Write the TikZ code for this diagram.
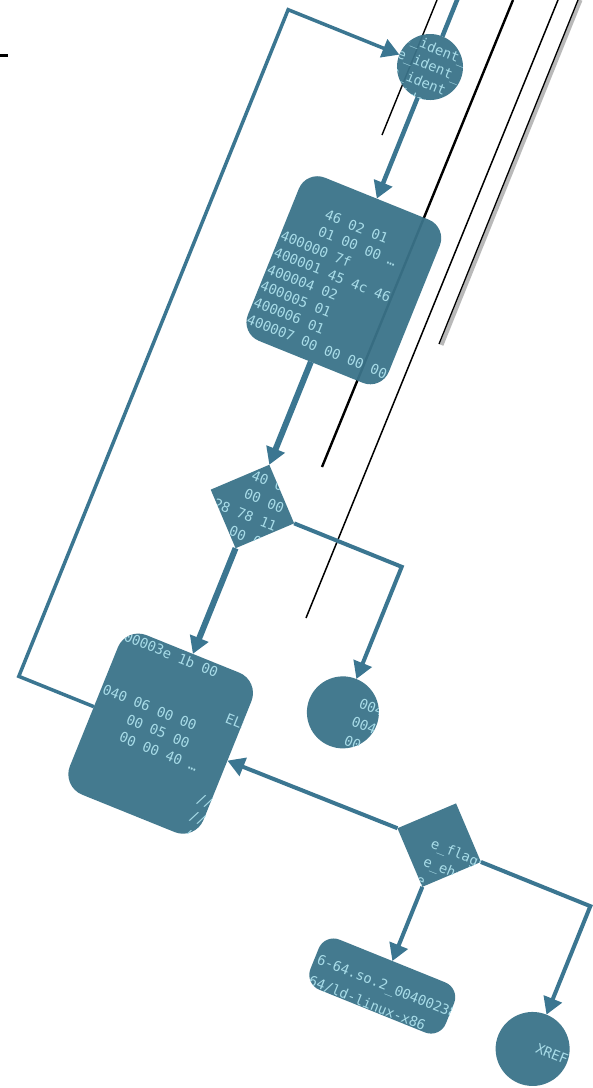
\documentclass[tikz,border=0pt]{standalone}
\usepackage{fontspec}
\setmonofont{DejaVu Sans Mono}
\usetikzlibrary{arrows.meta,shapes.geometric}
\definecolor{nodefill}{HTML}{3B7389}
\definecolor{edgecol}{HTML}{3B7691}
\definecolor{txtcol}{HTML}{A8DCE8}
\newcommand{\ind}[1]{\hphantom{#1}}
\begin{document}
\begin{tikzpicture}[x=1pt,y=-1pt,
  nd/.style={fill=nodefill, fill opacity=0.95, draw=none, inner sep=0pt, outer sep=0pt},
  circnode/.style={nd, circle},
  boxnode/.style={nd, rectangle, rounded corners=20pt},
  dianode/.style={nd, diamond, minimum width=90pt, minimum height=90pt},
  hex/.style={text=txtcol, font=\ttfamily\fontsize{13.8}{#1}\selectfont, inner sep=0pt, anchor=north west, align=left},
  hex/.default=18,
  edge/.style={draw=edgecol, line width=4pt},
  tip/.style={-{Triangle[length=17pt,width=19pt]}},
  junk/.style={draw=black}]
\fill[white] (0,0) rectangle (593,1088);
\useasboundingbox (0,0) rectangle (593,1088);

% stray black lines
\draw[junk, line width=3pt] (0,55.8) -- (7.5,55.8);
\draw[junk, line width=1.4pt] (437,0) -- (382,135);
\draw[junk, line width=2.4pt] (513,0) -- (322,467);
\draw[junk, line width=1.5pt] (558,0) -- (306,618);
\draw[draw=gray!55, line width=4pt] (580.5,0) -- (441.5,345);
\draw[junk, line width=1.3pt] (578,0) -- (439,344);

\begin{scope}[shift={(430,67)}, rotate=-22, transform shape]
  % nodes
  \node[circnode, minimum size=66pt] (n1) at (0,0) {};
  \node[boxnode, minimum width=152pt, minimum height=176pt] (n2) at (0,230) {};
  \node[dianode] (n3) at (0,474) {};
  \node[boxnode, rounded corners=22pt, minimum width=144pt, minimum height=172pt] (n4) at (0,719) {};
  \node[circnode, minimum size=72pt] (n5) at (161,631) {};
  \node[dianode] (n6) at (300,718) {};
  \node[boxnode, rounded corners=16pt, minimum width=146pt, minimum height=54pt] (n7) at (300,870) {};
  \node[circnode, minimum size=74pt] (n8) at (463,872) {};

  % bend points
  \coordinate (in0) at (0,-85);
  \coordinate (la) at (-153,719);
  \coordinate (lb) at (-153,0);
  \coordinate (ra) at (161,474);
  \coordinate (rb) at (463,718);

  % connectors
  \draw[edge, line width=4.5pt] (in0) -- (n1.north);
  \draw[edge, line width=4.5pt, tip] (n1) -- (n2);
  \draw[edge, line width=3.5pt, tip] (n4.west) -- (la) -- (lb) -- (n1.west);
  \draw[edge, line width=6pt, tip] (n2) -- (n3);
  \draw[edge, line width=6pt, tip] (n3) -- (n4);
  \draw[edge, tip] (n3.east) -- (ra) -- (n5.north);
  \draw[edge, tip] (n6.west) -- (n4.east);
  \draw[edge, tip] (n6) -- (n7);
  \draw[edge, tip] (n6.east) -- (rb) -- (n8.north);

  % texts, clipped by their shapes
  \begin{scope}
    \clip (0,0) circle[radius=33pt];
    \node[hex] (t1) at (-35,-25) {e\_ident\_\\e\_ident\_\\e\_ident\_\\e\_ident\_};
  \end{scope}
  \begin{scope}
    \clip[rounded corners=20pt] (-76,142) rectangle (76,318);
    \node[hex] (t2) at (-75,170) {\ind{0000}46 02 01\\\ind{0000}01 00 00 …\\400000 7f\\400001 45 4c 46\\400004 02\\400005 01\\400006 01\\400007 00 00 00 00};
  \end{scope}
  \begin{scope}
    \clip (n3.north) -- (n3.east) -- (n3.south) -- (n3.west) -- cycle;
    \node[hex=20] (t3) at (-37,439) {\ind{000}40 00\\\ind{000}00 00\\28 78 11 00\\\ind{000}00 00};
  \end{scope}
  \begin{scope}
    \clip[rounded corners=22pt] (-72,633) rectangle (72,805);
    \node[hex=19] (t4) at (-70,636) {00003e 1b 00\\\mbox{}\\\ind{000000000000000}ELF\\040 06 00 00\\\ind{0000}00 05 00\\\ind{0000}00 00 40 …};
    \node[hex=19] (t4s) at (58,759) {//\\//\\//};
  \end{scope}
  \begin{scope}
    \clip (161,631) circle[radius=36pt];
    \node[hex=20] (t5) at (173,610) {00400\\00400\\00400};
  \end{scope}
  \begin{scope}
    \clip (n6.north) -- (n6.east) -- (n6.south) -- (n6.west) -- cycle;
    \node[hex=19.5] (t6) at (292,713) {e\_flags\\e\_ehsize\\e\_phnum};
  \end{scope}
  \begin{scope}
    \clip[rounded corners=16pt] (227,843) rectangle (373,897);
    \node[hex=23] (t7) at (230,863) {6-64.so.2\_00400238\\64/ld-linux-x86};
  \end{scope}
  \begin{scope}
    \clip (463,872) circle[radius=37pt];
    \node[hex] (t8) at (466,864) {XREF};
  \end{scope}
\end{scope}
\end{tikzpicture}
\end{document}
